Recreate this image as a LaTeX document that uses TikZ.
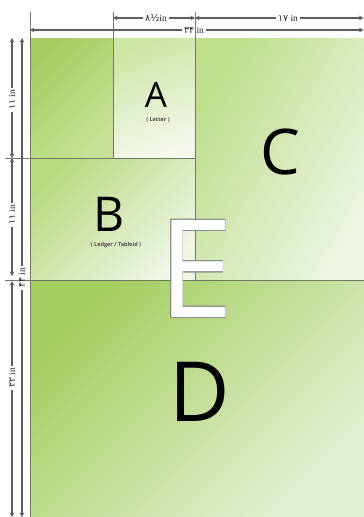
\documentclass[tikz,border=0pt]{standalone}
\usepackage{fontspec}
\setmainfont{Liberation Serif}
\newfontfamily\fa{DejaVu Sans}
\newfontfamily\osans{Open Sans}
\usetikzlibrary{arrows.meta}
\definecolor{gridc}{HTML}{707A62}
\definecolor{dimc}{HTML}{5E5E5E}
\tikzset{
  dimline/.style={line width=2pt, draw=dimc, -{Stealth[length=4.5pt,width=4.5pt]}},
  gridline/.style={line width=0.7pt, draw=gridc},
  dimlabel/.style={font=\fontsize{9.5}{9.5}\selectfont, inner sep=1.5pt, text=black!85},
  bigletter/.style={font=\osans, text=black, inner sep=0pt, text depth=0pt},
  sublabel/.style={font=\osans\bfseries\fontsize{5.5}{6}\selectfont, text=black!70, inner sep=0pt},
}
\begin{document}
\begin{tikzpicture}[x=1pt,y=-1pt]
\useasboundingbox (0,0) rectangle (364,517);
\fill[white] (0,0) rectangle (364,517);
% sheet regions
\shade[top color={rgb,255:red,166;green,205;blue,98}, bottom color={rgb,255:red,198;green,226;blue,150}, shading angle=45] (30,38) rectangle (113,158);
\shade[top color={rgb,255:red,205;green,229;blue,165}, bottom color={rgb,255:red,244;green,249;blue,236}, shading angle=20] (113,38) rectangle (195,158);
\shade[top color={rgb,255:red,186;green,218;blue,130}, bottom color={rgb,255:red,238;green,246;blue,228}, shading angle=45] (30,158) rectangle (195,280);
\shade[top color={rgb,255:red,190;green,222;blue,140}, bottom color={rgb,255:red,236;green,245;blue,226}, shading angle=60] (195,38) rectangle (364,280);
\shade[top color={rgb,255:red,165;green,206;blue,96}, bottom color={rgb,255:red,228;green,240;blue,212}, shading angle=45] (30,280) rectangle (364,517);
% grid lines
\draw[gridline] (30,12) -- (30,517);
\draw[gridline] (113,12) -- (113,158);
\draw[gridline] (195,12) -- (195,280);
\draw[gridline] (5,158) -- (195,158);
\draw[gridline] (5,280) -- (364,280);
% top dimensions
\node[dimlabel] (d85) at (156,18) {{\fa ۸½}in};
\node[dimlabel] (d17) at (288,18) {{\fa ۱۷} in};
\node[dimlabel] (d34) at (194,30) {{\fa ۳۴} in};
\coordinate (t1) at (113,18);
\coordinate (t2) at (195,18);
\coordinate (t3) at (363.5,18);
\coordinate (b1) at (30,30);
\coordinate (b2) at (363.5,30);
\draw[dimline] (d85.west) -- (t1);
\draw[dimline] (d85.east) -- (t2);
\draw[dimline] (d17.west) -- (t2);
\draw[dimline] (d17.east) -- (t3);
\draw[dimline] (d34.west) -- (b1);
\draw[dimline] (d34.east) -- (b2);
% left dimensions (outer)
\node[dimlabel, rotate=90] (l1) at (12,100) {{\fa ۱۱} in};
\node[dimlabel, rotate=90] (l2) at (12,215) {{\fa ۱۱} in};
\node[dimlabel, rotate=90] (l3) at (12,378) {{\fa ۲۲} in};
\coordinate (o1) at (12,38);
\coordinate (o2) at (12,158);
\coordinate (o3) at (12,276);
\coordinate (o4) at (12,281);
\coordinate (o5) at (12,517);
\draw[dimline] (l1.east) -- (o1);
\draw[dimline] (l1.west) -- (o2);
\draw[dimline] (l2.east) -- (o2);
\draw[dimline] (l2.west) -- (o3);
\draw[dimline] (l3.east) -- (o4);
\draw[dimline] (l3.west) -- (o5);
% left dimension (inner)
\node[dimlabel, rotate=90] (l4) at (22,278) {{\fa ۴۴} in};
\coordinate (i1) at (22,38);
\coordinate (i2) at (22,517);
\draw[dimline] (l4.east) -- (i1);
\draw[dimline] (l4.west) -- (i2);
% letters
\node[bigletter, font=\osans\fontsize{35}{35}\selectfont] (A) at (156,95) {A};
\node[sublabel] (As) at (158,120) {( Letter )};
\node[bigletter, font=\osans\fontsize{48}{48}\selectfont] (B) at (109,214) {B};
\node[sublabel] (Bs) at (116,245) {( Ledger / Tabloid )};
\node[bigletter, font=\osans\fontsize{63}{63}\selectfont] (C) at (280,152) {C};
\node[bigletter, font=\osans\fontsize{83}{83}\selectfont] (D) at (200,392) {D};
% outlined E
\foreach \a in {0,22.5,...,337.5}
  \node[bigletter, font=\osans\fontsize{136}{136}\selectfont, text=black!45] at ([shift={(\a:0.8)}]196,269) {E};
\node[bigletter, font=\osans\fontsize{136}{136}\selectfont, text=white] (E) at (196,269) {E};
\end{tikzpicture}
\end{document}
